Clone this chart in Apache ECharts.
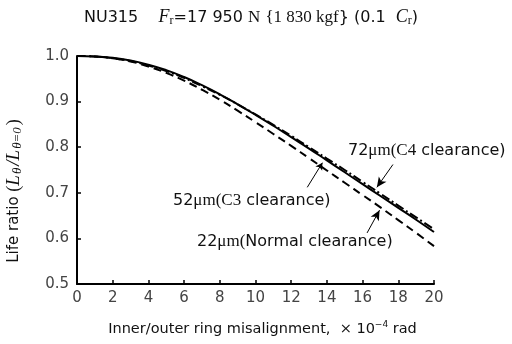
<!DOCTYPE html>
<html><head><meta charset="utf-8">
<script src="https://cdn.jsdelivr.net/npm/echarts@6/dist/echarts.min.js"></script>
<style>html,body{margin:0;padding:0;background:#fff}#c{width:512px;height:344px}</style>
</head><body><div id="c"></div>
<script>
var xValues = [0,1,2,3,4,5,6,7,8,9,10,11,12,13,14,15,16,17,18,19,20];
var c3Values = [1.000,0.999,0.996,0.990,0.981,0.969,0.954,0.936,0.916,0.894,0.871,0.847,0.822,0.797,0.771,0.745,0.719,0.693,0.667,0.641,0.614];
var c4Values = [1.000,0.999,0.995,0.989,0.979,0.967,0.952,0.934,0.915,0.894,0.872,0.849,0.825,0.800,0.775,0.750,0.724,0.698,0.672,0.646,0.620];
var normalValues = [1.000,0.999,0.995,0.988,0.977,0.963,0.946,0.926,0.904,0.880,0.855,0.829,0.803,0.776,0.749,0.722,0.695,0.668,0.640,0.612,0.583];
var xTicks = [0,2,4,6,8,10,12,14,16,18,20];
var yTicks = [0.5,0.6,0.7,0.8,0.9,1.0];

function pairs(v){ return xValues.map(function(x,i){ return [x, v[i]]; }); }

var font = 'DejaVu Sans, Liberation Sans, sans-serif';
var serif = 'Liberation Serif, DejaVu Serif, serif';
var richMu = {
  m: {fontFamily: serif, fontSize: 17, fill: '#111'},
  s: {fontFamily: serif, fontSize: 17, fill: '#111'}
};
var chart = echarts.init(document.getElementById('c'));
chart.setOption({
  animation: false,
  grid: {left: 77, right: 78, top: 56, bottom: 60},
  title: {
    text: 'NU315    {i|F}{sub|r}=17 950 {s|N} {s|{1 830 kgf}} (0.1  {i|C}{sub|r})',
    left: 79, top: 3,
    textStyle: {
      fontFamily: font, fontSize: 16, fontWeight: 'normal', color: '#111',
      rich: {
        i: {fontFamily: serif, fontStyle: 'italic', fontSize: 18, color: '#111'},
        sub: {fontFamily: serif, fontSize: 12, verticalAlign: 'bottom', padding: [7,0,0,0], color: '#111'},
        s: {fontFamily: serif, fontSize: 17, color: '#111'}
      }
    }
  },
  xAxis: {
    type: 'value', min: 0, max: 20, interval: 2,
    name: 'Inner/outer ring misalignment,  × 10{sup|−4} rad',
    nameLocation: 'middle', nameGap: 36,
    nameTextStyle: {fontFamily: font, fontSize: 14.5, color: '#111', padding: [0,0,0,14],
      rich: {sup: {fontSize: 9, verticalAlign: 'top', padding: [0,0,9,0], fontFamily: font, color: '#111'}}},
    axisLine: {lineStyle: {color: '#000', width: 2}},
    axisTick: {inside: true, length: 4, lineStyle: {color: '#000', width: 1.5}},
    axisLabel: {fontFamily: font, fontSize: 15, color: '#444', margin: 7},
    splitLine: {show: false}
  },
  yAxis: {
    type: 'value', min: 0.5, max: 1.0, interval: 0.1,
    axisLine: {show: true, lineStyle: {color: '#000', width: 2}},
    axisTick: {show: true, inside: true, length: 4, lineStyle: {color: '#000', width: 1.5}},
    axisLabel: {fontFamily: font, fontSize: 15, color: '#444', margin: 8,
      formatter: function(v){ return v.toFixed(1); }},
    splitLine: {show: false}
  },
  series: [
    {name: '22μm', type: 'line', data: pairs(normalValues), smooth: true, symbol: 'none',
     lineStyle: {color: '#000', width: 2, type: [8,5]},
     markLine: {silent: true, symbol: ['none','arrow'], symbolSize: [7,10], label: {show: false},
       lineStyle: {color: '#000', width: 1, type: 'solid'},
       data: [[{coord: [16.25, 0.612]}, {coord: [16.95, 0.662]}]]}},
    {name: '52μm', type: 'line', data: pairs(c3Values), smooth: true, symbol: 'none',
     lineStyle: {color: '#000', width: 2, type: 'solid'},
     markLine: {silent: true, symbol: ['none','arrow'], symbolSize: [6,7], label: {show: false},
       lineStyle: {color: '#000', width: 1, type: 'solid'},
       data: [[{coord: [12.9, 0.712]}, {coord: [13.75, 0.766]}]]}},
    {name: '72μm', type: 'line', data: pairs(c4Values), smooth: true, symbol: 'none',
     lineStyle: {color: '#000', width: 2, type: [9,3,2,3]},
     markLine: {silent: true, symbol: ['none','arrow'], symbolSize: [7,10], label: {show: false},
       lineStyle: {color: '#000', width: 1, type: 'solid'},
       data: [[{coord: [17.7, 0.762]}, {coord: [16.8, 0.712]}]]}}
  ],
  graphic: [
    {type: 'text', x: 14, y: 191, rotation: Math.PI / 2,
     style: {text: 'Life ratio {p|(}{i|L}{sub|θ}{i|/L}{sub|θ=0}{p|)}', fontFamily: font, fontSize: 15, fill: '#111',
       align: 'center', verticalAlign: 'middle',
       rich: {
         p: {fontFamily: serif, fontSize: 18, fill: '#111'},
         i: {fontFamily: serif, fontStyle: 'italic', fontSize: 19, fill: '#111'},
         sub: {fontFamily: serif, fontStyle: 'italic', fontSize: 13, verticalAlign: 'bottom', padding: [8,2,0,1], fill: '#111'}
       }}},
    {type: 'text', left: 348, top: 142, style: {text: '72{m|μm}{s|(C4} clearance)', fontFamily: font, fontSize: 16, fill: '#111', rich: richMu}},
    {type: 'text', left: 173, top: 192, style: {text: '52{m|μm}{s|(C3} clearance)', fontFamily: font, fontSize: 16, fill: '#111', rich: richMu}},
    {type: 'text', left: 197, top: 233, style: {text: '22{m|μm}{s|(}Normal clearance)', fontFamily: font, fontSize: 16, fill: '#111', rich: richMu}}
  ]
});
</script></body></html>
